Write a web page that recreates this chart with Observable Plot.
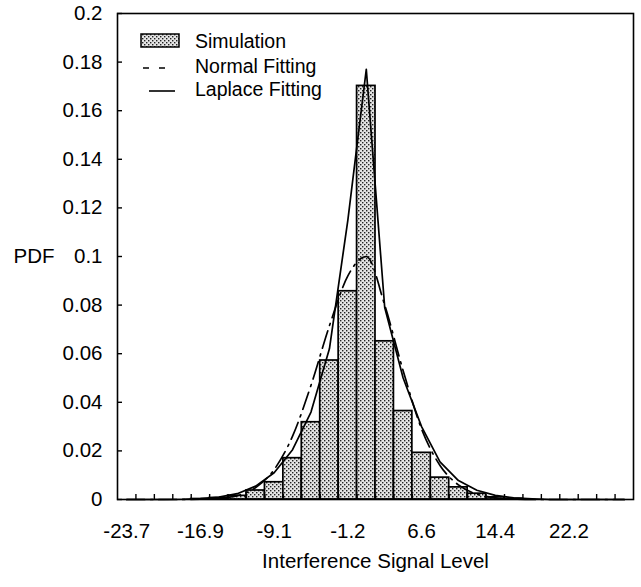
<!DOCTYPE html>
<html><head><meta charset="utf-8">
<script src="https://cdn.jsdelivr.net/npm/d3@7"></script>
<script src="https://cdn.jsdelivr.net/npm/@observablehq/plot@0.6"></script>
<style>body{margin:0;background:#fff}</style>
</head><body><div id="chart"></div>
<script>
// Bin centers (interference signal level) and bin width
const binCenters = [-24.6,-22.65,-20.7,-18.75,-16.8,-14.85,-12.9,-10.95,-9.0,-7.05,-5.1,-3.15,-1.2,0.75,2.7,4.65,6.6,8.55,10.5,12.45,14.4,16.35,18.3,20.25,22.2,24.15,26.1,28.05];
const binWidth = 1.95;
// Simulated histogram (PDF)
const simulation = [0,0,0,0,0.0002,0.0006,0.0015,0.0037,0.0071,0.017,0.0318,0.0572,0.0857,0.1702,0.0651,0.0364,0.0192,0.009,0.005,0.0024,0.0009,0.0003,0,0,0,0,0,0];
// Normal fitting curve
const normalFit = [0,0,0,0,0.0001,0.0005,0.0016,0.0049,0.0123,0.0261,0.047,0.0715,0.092,0.100,0.080,0.053,0.029,0.014,0.006,0.0022,0.0007,0.0002,0,0,0,0,0,0];
// Laplace fitting curve
const laplaceFit = [0,0,0,0.0001,0.0004,0.001,0.0024,0.0055,0.011,0.0205,0.036,0.062,0.115,0.177,0.079,0.05,0.03,0.0155,0.0078,0.0038,0.0017,0.0007,0.0003,0,0,0,0,0];
// Axis ticks
const xTickValues = [-24.6,-16.8,-9.0,-1.2,6.6,14.4,22.2];
const xTickLabels = ["-23.7","-16.9","-9.1","-1.2","6.6","14.4","22.2"];
const yTickValues = [0,0.02,0.04,0.06,0.08,0.1,0.12,0.14,0.16,0.18,0.2];
const yTickLabels = ["0","0.02","0.04","0.06","0.08","0.1","0.12","0.14","0.16","0.18","0.2"];
const legendLabels = ["Simulation","Normal Fitting","Laplace Fitting"];
const xTitle = "Interference Signal Level";
const yTitle = "PDF";

const bins = binCenters.map((c, i) => ({x1: c - binWidth / 2, x2: c + binWidth / 2, c, sim: simulation[i], normal: normalFit[i], laplace: laplaceFit[i]}));
const edges = bins.map(b => b.x2).slice(0, -1);
const font = "'Liberation Sans', Arial, Helvetica, sans-serif";
const fs = 20.5;

const plot = Plot.plot({
  width: 641, height: 587,
  marginLeft: 117, marginRight: 8, marginTop: 13, marginBottom: 88,
  style: {fontFamily: font, fontSize: fs + "px", color: "#000", background: "#fff"},
  x: {domain: [bins[0].x1, bins[bins.length - 1].x2]},
  y: {domain: [0, 0.2]},
  marks: [
    Plot.rectY(bins.filter(d => d.sim > 0), {x1: "x1", x2: "x2", y: "sim", fill: "url(#stipple)", stroke: "#000", strokeWidth: 1.7}),
    Plot.line(bins, {x: "c", y: "normal", curve: "monotone-x", stroke: "#000", strokeWidth: 1.7, strokeDasharray: "18,6,2,6"}),
    Plot.line(bins, {x: "c", y: "laplace", stroke: "#000", strokeWidth: 1.7}),
    Plot.frame({stroke: "#000", strokeWidth: 1.6}),
    Plot.axisX({ticks: edges, tickSize: -5, tickFormat: () => "", label: null, strokeWidth: 1.4}),
    Plot.axisX({ticks: xTickValues, tickSize: 0, tickPadding: 24, fontSize: fs, label: null,
      tickFormat: d => xTickLabels[xTickValues.indexOf(d)]}),
    Plot.axisY({ticks: yTickValues, tickSize: -5, tickFormat: () => "", label: null, strokeWidth: 1.4}),
    Plot.axisY({ticks: yTickValues, tickSize: 0, tickPadding: 15, fontSize: fs, label: null,
      tickFormat: d => yTickLabels[yTickValues.indexOf(d)]}),
    Plot.text([yTitle], {frameAnchor: "left", dx: -104, textAnchor: "start", fontSize: fs}),
    Plot.text([xTitle], {frameAnchor: "bottom", dy: 68, fontSize: fs})
  ]
});

const svg = d3.select(plot);
const defs = svg.insert("defs", ":first-child");
const pat = defs.append("pattern").attr("id", "stipple").attr("patternUnits", "userSpaceOnUse").attr("width", 4).attr("height", 4);
pat.append("rect").attr("width", 4).attr("height", 4).attr("fill", "#e4e4e4");
pat.append("rect").attr("x", 0).attr("y", 0).attr("width", 1.4).attr("height", 1.4).attr("fill", "#222");
pat.append("rect").attr("x", 2).attr("y", 2).attr("width", 1.4).attr("height", 1.4).attr("fill", "#222");

const lg = svg.append("g").attr("font-family", font).attr("font-size", 19.5).attr("fill", "#000").attr("text-anchor", "start");
lg.append("rect").attr("x", 141).attr("y", 34).attr("width", 38).attr("height", 13)
  .attr("fill", "url(#stipple)").attr("stroke", "#000").attr("stroke-width", 1.5);
lg.append("text").attr("x", 195).attr("y", 41).attr("dy", "0.35em").text(legendLabels[0]);
lg.append("line").attr("x1", 143).attr("x2", 166).attr("y1", 68).attr("y2", 68)
  .attr("stroke", "#000").attr("stroke-width", 1.6).attr("stroke-dasharray", "6,10");
lg.append("text").attr("x", 195).attr("y", 66).attr("dy", "0.35em").text(legendLabels[1]);
lg.append("line").attr("x1", 149).attr("x2", 175).attr("y1", 91).attr("y2", 91)
  .attr("stroke", "#000").attr("stroke-width", 1.6);
lg.append("text").attr("x", 195).attr("y", 89).attr("dy", "0.35em").text(legendLabels[2]);

document.getElementById("chart").appendChild(plot);
</script>
</body></html>
